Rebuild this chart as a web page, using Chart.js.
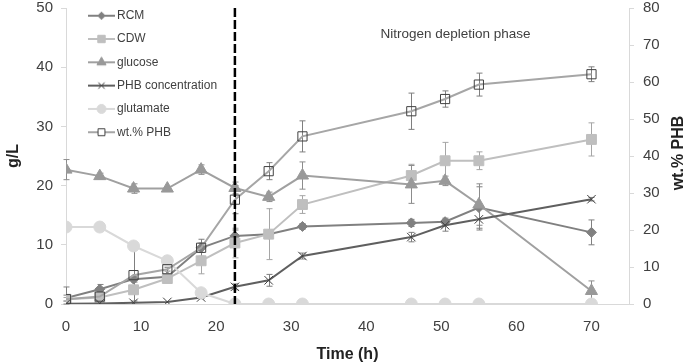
<!DOCTYPE html>
<html><head><meta charset="utf-8">
<script src="https://cdn.jsdelivr.net/npm/chart.js@4.4.0/dist/chart.umd.min.js"></script>
<style>html,body{margin:0;padding:0;background:#fff}canvas{display:block}</style>
</head><body>
<canvas id="c" width="685" height="364"></canvas>
<script>
// ---- data ----
const times = [0, 4.5, 9, 13.5, 18, 22.5, 27, 31.5, 46, 50.5, 55, 70];
const seriesNames = ['RCM', 'CDW', 'glucose', 'PHB concentration', 'glutamate', 'wt.% PHB'];
const rcm       = [1.0, 2.5, 4.2, 4.6, 9.5, 11.5, 11.8, 13.1, 13.7, 13.9, 16.3, 12.1];
const rcmErr    = [0.5, 0.8, 0.5, 0.3, 0.8, 1.0, 0.5, 0.5, 0.6, 0.6, 3.5, 2.1];
const cdw       = [0.8, 1.1, 2.4, 4.3, 7.3, 10.3, 11.8, 16.8, 21.7, 24.2, 24.2, 27.8];
const cdwErr    = [0.3, 0.5, 0.5, 0.3, 2.2, 2.5, 4.3, 1.5, 1.9, 3.1, 1.5, 2.8];
const glucose   = [22.7, 21.6, 19.5, 19.5, 22.7, 19.6, 18.1, 21.7, 20.2, 20.8, 16.8, 2.2];
const glucErr   = [1.7, 0.5, 0.8, 0.3, 0.8, 1.0, 0.8, 2.3, 3.2, 0.8, 3.5, 1.7];
const phb       = [0.05, 0.1, 0.2, 0.35, 1.1, 2.9, 4.0, 8.1, 11.3, 13.3, 14.3, 17.7];
const phbErr    = [0, 0, 0, 0, 0.2, 0.5, 1.0, 0.5, 0.8, 1.0, 1.8, 0.3];
const glutamate = [13.0, 13.0, 9.8, 7.3, 1.9, 0, 0, 0, 0, 0, 0, 0];
const glutErr   = [0, 0, 0, 0, 0, 0, 0, 0, 0, 0, 0, 0];
const wtPHB     = [1.3, 2.0, 7.8, 9.4, 15.2, 28.2, 35.9, 45.3, 52.1, 55.4, 59.3, 62.1];
const wtErr     = [3.3, 1.5, 7.0, 0.5, 2.3, 3.8, 2.3, 4.2, 4.9, 2.2, 3.1, 2.0];
const depletionStart = 22.5;
const depletionLabel = 'Nitrogen depletion phase';
const xTitle = 'Time (h)';
const yTitle = 'g/L';
const y1Title = 'wt.% PHB';

// ---- styles ----
const FONT = "'Liberation Sans', Arial, sans-serif";
Chart.defaults.font.family = FONT;
const styles = [
  {line:'#808080', ps:'rectRot', r:5, bg:'#808080', bc:'#808080', bw:1, err:'#808080', axis:'y'},
  {line:'#bfbfbf', ps:'rect', r:7, bg:'#bfbfbf', bc:'#bfbfbf', bw:1, err:'#a6a6a6', axis:'y'},
  {line:'#a0a0a0', ps:'triangle', r:7, bg:'#999999', bc:'#999999', bw:1, err:'#8c8c8c', axis:'y'},
  {line:'#5f5f5f', ps:'crossRot', r:6, bg:'#404040', bc:'#404040', bw:1, err:'#7f7f7f', axis:'y'},
  {line:'#d9d9d9', ps:'circle', r:6, bg:'#d9d9d9', bc:'#d9d9d9', bw:1, err:'#bfbfbf', axis:'y'},
  {line:'#a6a6a6', ps:'rect', r:6.5, bg:'rgba(255,255,255,0)', bc:'#404040', bw:1, err:'#7f7f7f', axis:'y1'}
];
const values = [rcm, cdw, glucose, phb, glutamate, wtPHB];
const errors = [rcmErr, cdwErr, glucErr, phbErr, glutErr, wtErr];

function pts(vals){ return times.map((t,i)=>({x:t, y:vals[i]})); }

const datasets = seriesNames.map((name,i)=>{
  const s = styles[i];
  return {
    label: name, data: pts(values[i]), yAxisID: s.axis,
    borderColor: s.line, backgroundColor: s.bg, borderWidth: 2, tension: 0,
    pointStyle: s.ps, pointRadius: s.r, pointHoverRadius: s.r,
    pointBackgroundColor: s.bg, pointBorderColor: s.bc, pointBorderWidth: s.bw,
    errors: errors[i], errorColor: s.err, order: seriesNames.length - i
  };
});

// legend icons (line + marker)
function icon(s){
  const c = document.createElement('canvas');
  c.width = 27; c.height = 14;
  const ctx = c.getContext('2d');
  ctx.strokeStyle = s.line; ctx.lineWidth = 2;
  ctx.beginPath(); ctx.moveTo(0,7); ctx.lineTo(27,7); ctx.stroke();
  ctx.fillStyle = s.ps === 'rect' && s.bg.indexOf('rgba')===0 ? '#ffffff' : s.bg;
  ctx.strokeStyle = s.bc; ctx.lineWidth = 1;
  Chart.helpers.drawPoint(ctx, {pointStyle: s.ps, radius: s.r*0.75, borderWidth: 1, rotation: 0}, 13.5, 7);
  return c;
}
const icons = styles.map(icon);

const overlay = {
  id: 'overlay',
  afterLayout(chart){
    const lg = chart.legend;
    if (lg){ lg.left = 92 - 11.3; lg.top = -1.6; lg.bottom = 300; lg.right = lg.left + lg.width; }
  },
  beforeDatasetsDraw(chart){
    const ctx = chart.ctx;
    chart.data.datasets.forEach((ds,i)=>{
      const meta = chart.getDatasetMeta(i);
      const ys = chart.scales[ds.yAxisID];
      ctx.save();
      ctx.strokeStyle = ds.errorColor; ctx.lineWidth = 1;
      ds.data.forEach((p,j)=>{
        const e = ds.errors[j];
        if (!e) return;
        const x = Math.round(meta.data[j].x) + 0.5;
        const t = ys.getPixelForValue(p.y + e), b = ys.getPixelForValue(Math.max(p.y - e, ys.min));
        ctx.beginPath();
        ctx.moveTo(x, t); ctx.lineTo(x, b);
        ctx.moveTo(x-3, t); ctx.lineTo(x+3, t);
        ctx.moveTo(x-3, b); ctx.lineTo(x+3, b);
        ctx.stroke();
      });
      ctx.restore();
    });
  },
  afterDatasetsDraw(chart){
    const ctx = chart.ctx, xs = chart.scales.x, area = chart.chartArea;
    const x = xs.getPixelForValue(depletionStart);
    ctx.save();
    ctx.strokeStyle = '#000'; ctx.lineWidth = 2.5; ctx.setLineDash([9,3]);
    ctx.beginPath(); ctx.moveTo(x, area.top); ctx.lineTo(x, area.bottom); ctx.stroke();
    ctx.restore();
  },
  afterDraw(chart){
    const ctx = chart.ctx;
    ctx.save();
    ctx.fillStyle = '#404040';
    ctx.font = '13.5px ' + FONT;
    ctx.textAlign = 'center'; ctx.textBaseline = 'middle';
    ctx.fillText(depletionLabel, 455.5, 34);
    ctx.fillStyle = '#222';
    ctx.font = 'bold 16px ' + FONT;
    ctx.translate(679, 153); ctx.rotate(-Math.PI/2);
    ctx.fillText(y1Title, 0, 0);
    ctx.restore();
  }
};

function noVPad(s){ s.paddingTop = 0; s.paddingBottom = 0; }
const tickFont = {size: 15, lineHeight: 0.9};
new Chart(document.getElementById('c'), {
  type: 'line',
  data: {datasets},
  options: {
    responsive: false, animation: false,
    layout: {padding: {top: 7, left: 0, right: 0, bottom: 0}},
    plugins: {
      tooltip: {enabled: false},
      legend: {
        position: 'chartArea', align: 'start', fullSize: false,
        labels: {
          usePointStyle: true, pointStyleWidth: 19, padding: 11.3,
          font: {size: 12}, color: '#404040',
          generateLabels: (chart)=> chart.data.datasets.map((ds,i)=>({
            text: ds.label, pointStyle: icons[i], datasetIndex: i, hidden: false,
            lineWidth: 0, fillStyle: 'transparent', strokeStyle: 'transparent', fontColor: '#404040'
          }))
        }
      }
    },
    scales: {
      x: {
        type: 'linear', min: 0, max: 75,
        ticks: {stepSize: 10, includeBounds: false, font: tickFont, color: '#404040', padding: 8, maxRotation: 0},
        grid: {display: false},
        border: {color: '#d9d9d9', width: 1},
        title: {display: true, text: xTitle, font: {size: 16, weight: 'bold'}, color: '#222', padding: {top: 0, bottom: 0}},
        afterFit(s){ s.height = 60; }
      },
      y: {
        position: 'left', min: 0, max: 50,
        ticks: {stepSize: 10, font: tickFont, color: '#404040', padding: 8},
        grid: {drawOnChartArea: false, drawTicks: true, tickLength: 5, color: '#d9d9d9'},
        border: {color: '#d9d9d9', width: 1},
        title: {display: true, text: yTitle, font: {size: 16, weight: 'bold'}, color: '#222', padding: {top: 3.5, bottom: 0}},
        afterFit(s){ s.width = 66; noVPad(s); }
      },
      y1: {
        position: 'right', min: 0, max: 80,
        ticks: {stepSize: 10, font: tickFont, color: '#404040', padding: 9},
        grid: {drawOnChartArea: false, drawTicks: true, tickLength: 5, color: '#d9d9d9'},
        border: {color: '#d9d9d9', width: 1},
        afterFit(s){ s.width = 56; noVPad(s); }
      }
    }
  },
  plugins: [overlay]
});
</script>
</body></html>
